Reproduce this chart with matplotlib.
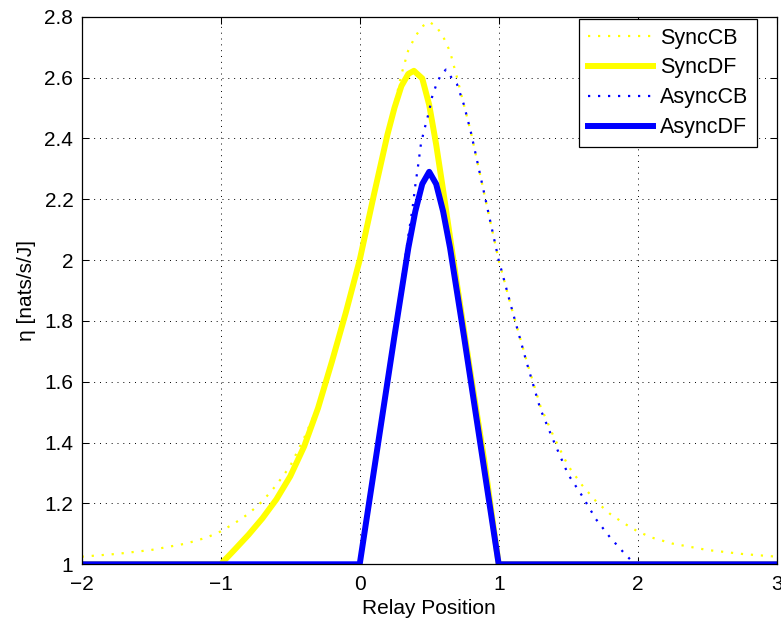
import numpy as np
import matplotlib
matplotlib.use('Agg')
import matplotlib.pyplot as plt

plt.rcParams['font.family'] = ['Liberation Sans', 'DejaVu Sans']

# values
sync_cb_x = [-2.0, -1.75, -1.5, -1.25, -1.1, -1.0, -0.9, -0.8, -0.7, -0.6, -0.5, -0.4,
             -0.3, -0.2, -0.1, 0.0, 0.1, 0.2, 0.25, 0.3, 0.35, 0.4, 0.45, 0.5, 0.55, 0.6,
             0.65, 0.7, 0.75, 0.8, 0.9, 1.0, 1.1, 1.2, 1.3, 1.4, 1.5, 1.6, 1.7, 1.8, 1.9,
             2.0, 2.1, 2.25, 2.5, 2.75, 3.0]
sync_cb_y = [1.025, 1.034, 1.047, 1.068, 1.088, 1.108, 1.135, 1.166, 1.207, 1.26, 1.323,
             1.415, 1.52, 1.67, 1.83, 2.0, 2.21, 2.42, 2.51, 2.61, 2.69, 2.735, 2.768, 2.783,
             2.768, 2.735, 2.685, 2.60, 2.51, 2.42, 2.21, 2.0, 1.83, 1.67, 1.52, 1.415, 1.323,
             1.26, 1.207, 1.166, 1.135, 1.108, 1.088, 1.068, 1.047, 1.034, 1.025]

sync_df_x = [-2.0, -1.0, -0.9, -0.8, -0.7, -0.6, -0.5, -0.4, -0.3, -0.2, -0.1, 0.0, 0.1,
             0.2, 0.25, 0.3, 0.35, 0.39, 0.45, 0.5, 0.55, 0.6, 0.65, 0.7, 0.75, 0.8, 0.85,
             0.9, 0.95, 1.0, 3.0]
sync_df_y = [1.0, 1.0, 1.048, 1.097, 1.151, 1.213, 1.289, 1.387, 1.513, 1.666, 1.827, 2.0,
             2.21, 2.413, 2.50, 2.572, 2.612, 2.622, 2.597, 2.51, 2.38, 2.23, 2.075, 1.92,
             1.77, 1.62, 1.475, 1.33, 1.165, 1.0, 1.0]

async_cb_x = [-2.0, 0.0, 0.05, 0.1, 0.15, 0.2, 0.25, 0.3, 0.35, 0.38, 0.4, 0.42, 0.44,
              0.46, 0.48, 0.5, 0.52, 0.55, 0.58, 0.62, 0.66, 0.7, 0.75, 0.8, 0.9, 1.0, 1.1,
              1.2, 1.3, 1.4, 1.5, 1.6, 1.7, 1.8, 1.9, 1.95, 2.0, 3.0]
async_cb_y = [1.0, 1.0, 1.16, 1.32, 1.47, 1.62, 1.77, 1.92, 2.08, 2.17, 2.245, 2.31, 2.38,
              2.42, 2.455, 2.49, 2.535, 2.575, 2.605, 2.626, 2.60, 2.578, 2.51, 2.42, 2.21,
              2.0, 1.83, 1.665, 1.51, 1.40, 1.295, 1.225, 1.148, 1.089, 1.038, 1.014, 1.0, 1.0]

async_df_x = [-2.0, 0.0, 0.05, 0.1, 0.15, 0.2, 0.25, 0.3, 0.35, 0.4, 0.45, 0.5, 0.55, 0.6,
              0.65, 0.7, 0.75, 0.8, 0.85, 0.9, 0.95, 1.0, 3.0]
async_df_y = [1.0, 1.0, 1.15, 1.30, 1.45, 1.60, 1.75, 1.895, 2.04, 2.16, 2.25, 2.29, 2.25,
              2.16, 2.04, 1.895, 1.75, 1.60, 1.45, 1.30, 1.15, 1.0, 1.0]

labels = ['SyncCB', 'SyncDF', 'AsyncCB', 'AsyncDF']

fig = plt.figure(figsize=(7.81, 6.24), dpi=100)
ax = fig.add_axes([0.1046, 0.0957, 0.8899, 0.8776])

dot = (0, (1, 3.5))
ax.plot(sync_cb_x, sync_cb_y, color='yellow', lw=1.6, linestyle=dot, label=labels[0])
ax.plot(sync_df_x, sync_df_y, color='yellow', lw=4.3, solid_joinstyle='round', label=labels[1])
ax.plot(async_cb_x, async_cb_y, color='blue', lw=1.6, linestyle=dot, label=labels[2])
ax.plot(async_df_x, async_df_y, color='blue', lw=4.3, solid_joinstyle='round', label=labels[3])

ax.set_xlim(-2, 3)
ax.set_ylim(1, 2.8)
ax.set_xticks(np.arange(-2, 4, 1))
ax.set_yticks(np.arange(1, 2.81, 0.2))
ax.set_yticklabels(['1', '1.2', '1.4', '1.6', '1.8', '2', '2.2', '2.4', '2.6', '2.8'])

ax.grid(True, color='black', linestyle=(0, (1, 5)), linewidth=0.7)
ax.tick_params(direction='in', length=5, width=0.75, top=True, right=True,
               labelsize=15, colors='black')
ax.tick_params(axis='x', pad=8)
ax.tick_params(axis='y', pad=6)
for sp in ax.spines.values():
    sp.set_linewidth(0.9)

ax.set_xlabel('Relay Position', fontsize=15, labelpad=3)
ax.set_ylabel('η [nats/s/J]', fontsize=15, labelpad=6)

leg = ax.legend(loc='upper right', bbox_to_anchor=(757 / 781, 1 - 19 / 624),
                bbox_transform=fig.transFigure, borderaxespad=0, fontsize=15.5,
                fancybox=False, framealpha=1, edgecolor='black', handlelength=3.0,
                handletextpad=0.35, labelspacing=0.41, borderpad=0.4)
leg.get_frame().set_linewidth(0.9)

fig.savefig('out.png', dpi=100)
